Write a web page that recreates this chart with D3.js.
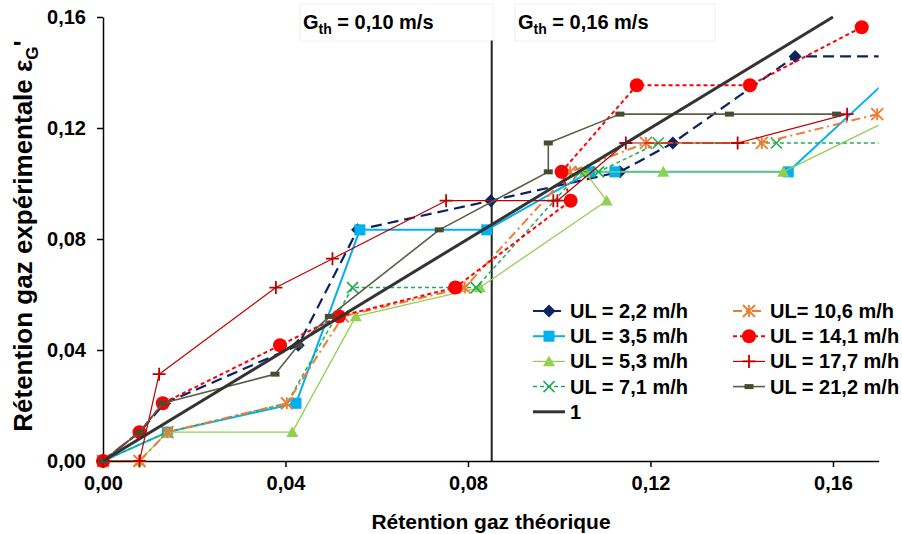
<!DOCTYPE html>
<html><head><meta charset="utf-8">
<script src="https://cdn.jsdelivr.net/npm/d3@7"></script>
<style>
html,body{margin:0;padding:0;background:#fff;}
svg text{font-family:"Liberation Sans",Arial,sans-serif;font-weight:bold;fill:#000;}
</style></head>
<body><svg id="c" width="902" height="534"></svg>
<script>
// ---- data ----
const xTicks = [0, 0.04, 0.08, 0.12, 0.16];
const yTicks = [0, 0.04, 0.08, 0.12, 0.16];
const xTitle = "Rétention gaz théorique";
const yTitleMain = "Rétention gaz expérimentale ε";
const yTitleSub = "G";
const yTitleEnd = "'";
const annotations = ["0,10 m/s", "0,16 m/s"];

const ul22_x = [0, 0.008, 0.0135, 0.0428, 0.0558, 0.0850, 0.1133, 0.1249, 0.1517, 0.18];
const ul22_y = [0, 0.0104, 0.0208, 0.0417, 0.0833, 0.0938, 0.1042, 0.1146, 0.1458, 0.1458];
const ul35_x = [0, 0.0141, 0.0423, 0.0563, 0.0841, 0.1067, 0.1122, 0.1502, 0.1775];
const ul35_y = [0, 0.0104, 0.0208, 0.0833, 0.0833, 0.1042, 0.1042, 0.1042, 0.1458];
const ul53_x = [0, 0.008, 0.0141, 0.0415, 0.0554, 0.0826, 0.1104, 0.1056, 0.1228, 0.1491, 0.175];
const ul53_y = [0, 0, 0.0104, 0.0104, 0.0521, 0.0625, 0.0938, 0.1042, 0.1042, 0.1042, 0.125];
const ul71_x = [0, 0.0141, 0.0403, 0.0547, 0.0818, 0.1046, 0.1086, 0.1217, 0.1476, 0.175];
const ul71_y = [0, 0.0104, 0.0208, 0.0625, 0.0625, 0.1042, 0.1042, 0.1146, 0.1146, 0.1146];
const ul106_x = [0, 0.008, 0.0141, 0.0403, 0.0526, 0.0793, 0.1024, 0.119, 0.1444, 0.1697];
const ul106_y = [0, 0, 0.0104, 0.0208, 0.0521, 0.0625, 0.1042, 0.1146, 0.1146, 0.125];
const ul141_x = [0, 0.008, 0.0131, 0.0388, 0.0517, 0.0772, 0.1025, 0.1005, 0.117, 0.1418, 0.1663];
const ul141_y = [0, 0.0104, 0.0208, 0.0417, 0.0521, 0.0625, 0.0938, 0.1042, 0.1354, 0.1354, 0.1563];
const ul177_x = [0, 0.008, 0.0123, 0.0379, 0.0503, 0.0752, 0.0987, 0.0996, 0.1146, 0.1391, 0.1631];
const ul177_y = [0, 0, 0.0313, 0.0625, 0.0729, 0.0938, 0.0938, 0.0938, 0.1146, 0.1146, 0.125];
const ul212_x = [0, 0.008, 0.0131, 0.0377, 0.0428, 0.0496, 0.0737, 0.0976, 0.0976, 0.1133, 0.1373, 0.1608];
const ul212_y = [0, 0.0104, 0.0208, 0.0313, 0.0417, 0.0521, 0.0833, 0.1042, 0.1146, 0.125, 0.125, 0.125];
const one_x = [0, 0.16];
const one_y = [0, 0.16];
const vline_x = [0.0852, 0.0852];
const vline_y = [0, 0.1515];

const seriesNames = ["UL = 2,2 m/h","UL = 3,5 m/h","UL = 5,3 m/h","UL = 7,1 m/h",
                     "UL= 10,6 m/h","UL = 14,1 m/h","UL = 17,7 m/h","UL = 21,2 m/h","1"];

// ---- styles ----
const styles = [
  {x:ul22_x,y:ul22_y,color:"#0b2461",w:2.2,dash:"11,6",marker:"diamond",ms:13},
  {x:ul35_x,y:ul35_y,color:"#00b0f0",w:2,dash:null,marker:"square",ms:11},
  {x:ul53_x,y:ul53_y,color:"#92d050",w:1.3,dash:null,marker:"triangle",ms:12},
  {x:ul71_x,y:ul71_y,color:"#1fae55",w:1.5,dash:"4,3",marker:"x",ms:11},
  {x:ul106_x,y:ul106_y,color:"#ed7d31",w:2,dash:"9,4,2,4",marker:"star",ms:12},
  {x:ul141_x,y:ul141_y,color:"#ff0000",w:2,dash:"4,3",marker:"circle",ms:14},
  {x:ul177_x,y:ul177_y,color:"#c00000",w:1.2,dash:null,marker:"plus",ms:13},
  {x:ul212_x,y:ul212_y,color:"#5d5d45",w:1.6,dash:null,marker:"rect",ms:9},
  {x:one_x,y:one_y,color:"#333333",w:3,dash:null,marker:null,ms:0}
];

const svg = d3.select("#c");
const xs = d3.scaleLinear().domain([0,0.17]).range([103,878.6]);
const ys = d3.scaleLinear().domain([0,0.16]).range([461,17]);
const fmt = v => d3.format(".2f")(v).replace(".", ",");

svg.append("defs").append("clipPath").attr("id","clip")
  .append("rect").attr("x",xs(0)).attr("y",ys(0.16)-2)
  .attr("width",xs(0.17)-xs(0)).attr("height",ys(0)-ys(0.16)+2);

// annotations boxes
const ann = svg.append("g");
[[300,493,303],[515,715,518]].forEach((b,i)=>{
  ann.append("rect").attr("x",b[0]).attr("y",4).attr("width",b[1]-b[0]).attr("height",37)
    .attr("fill","#fff").attr("stroke","#f0f0f0").attr("stroke-width",1);
  const t = ann.append("text").attr("x",b[2]).attr("y",29).attr("font-size",20);
  t.append("tspan").text("G");
  t.append("tspan").attr("font-size",14).attr("dy",5).text("th");
  t.append("tspan").attr("dy",-5).text(" = " + annotations[i]);
});

// vertical line
const line = d3.line().x(d=>xs(d[0])).y(d=>ys(d[1]));
svg.append("path").datum(d3.zip(vline_x, vline_y)).attr("d",line)
  .attr("fill","none").attr("stroke","#222").attr("stroke-width",2);

// axes
const xAxis = d3.axisBottom(xs).tickValues(xTicks).tickFormat(fmt).tickSize(6).tickSizeOuter(0).tickPadding(9);
const yAxis = d3.axisLeft(ys).tickValues(yTicks).tickFormat(fmt).tickSize(6).tickSizeOuter(0).tickPadding(11);
const gx = svg.append("g").attr("transform",`translate(0,${ys(0)})`).call(xAxis);
const gy = svg.append("g").attr("transform",`translate(${xs(0)},0)`).call(yAxis);
[gx,gy].forEach(g=>{
  g.select(".domain").attr("stroke","#000").attr("stroke-width",1.5);
  g.selectAll(".tick line").attr("stroke","#000").attr("stroke-width",1.5);
  g.selectAll(".tick text").attr("font-size",20).attr("fill","#000")
    .style("font-family","'Liberation Sans',Arial,sans-serif").style("font-weight","bold");
});

// titles
svg.append("text").attr("x",491).attr("y",529).attr("text-anchor","middle")
  .attr("font-size",21).text(xTitle);
const yt = svg.append("text").attr("transform","translate(32,236) rotate(-90)").attr("text-anchor","middle")
  .attr("font-size",26);
yt.append("tspan").text(yTitleMain);
yt.append("tspan").attr("font-size",17).attr("dy",6).text(yTitleSub);
yt.append("tspan").attr("dy",-6).text(yTitleEnd);

// markers
function drawMarker(g, type, cx, cy, s, color){
  const h = s/2;
  if(type==="diamond") g.append("path").attr("d",`M${cx},${cy-h}L${cx+h},${cy}L${cx},${cy+h}L${cx-h},${cy}Z`).attr("fill",color);
  else if(type==="square") g.append("rect").attr("x",cx-h).attr("y",cy-h).attr("width",s).attr("height",s).attr("fill",color);
  else if(type==="triangle") g.append("path").attr("d",`M${cx},${cy-h}L${cx+h},${cy+h*0.8}L${cx-h},${cy+h*0.8}Z`).attr("fill",color);
  else if(type==="circle") g.append("circle").attr("cx",cx).attr("cy",cy).attr("r",h).attr("fill",color);
  else if(type==="x") g.append("path").attr("d",`M${cx-h},${cy-h}L${cx+h},${cy+h}M${cx-h},${cy+h}L${cx+h},${cy-h}`).attr("stroke",color).attr("stroke-width",1.6).attr("fill","none");
  else if(type==="plus") g.append("path").attr("d",`M${cx-h},${cy}L${cx+h},${cy}M${cx},${cy-h}L${cx},${cy+h}`).attr("stroke",color).attr("stroke-width",1.8).attr("fill","none");
  else if(type==="star") g.append("path").attr("d",`M${cx-h},${cy-h}L${cx+h},${cy+h}M${cx-h},${cy+h}L${cx+h},${cy-h}M${cx},${cy-h}L${cx},${cy+h}`).attr("stroke",color).attr("stroke-width",1.8).attr("fill","none");
  else if(type==="rect") g.append("rect").attr("x",cx-h).attr("y",cy-2.5).attr("width",s).attr("height",5).attr("fill","#4a4a30");
}

const plot = svg.append("g");
styles.forEach((st)=>{
  const pts = d3.zip(st.x, st.y);
  plot.append("path").datum(pts).attr("d",line).attr("clip-path","url(#clip)")
    .attr("fill","none").attr("stroke",st.color).attr("stroke-width",st.w)
    .attr("stroke-dasharray",st.dash).attr("stroke-linejoin","round");
  if(st.marker){
    const mg = plot.append("g");
    pts.filter(p=>p[0]<=0.17 && p[1]<=0.16).forEach(p=>drawMarker(mg, st.marker, xs(p[0]), ys(p[1]), st.ms, st.color));
  }
});

// legend
const lg = svg.append("g");
const colX = [533, 733], rowY0 = 311, rowDy = 25.2;
styles.forEach((st,i)=>{
  let col, row;
  if(i<4){col=0;row=i;} else if(i<8){col=1;row=i-4;} else {col=0;row=4;}
  const lx = colX[col], ly = rowY0 + row*rowDy;
  lg.append("line").attr("x1",lx).attr("x2",lx+32).attr("y1",ly).attr("y2",ly)
    .attr("stroke",st.color).attr("stroke-width",st.w).attr("stroke-dasharray",st.dash);
  if(st.marker) drawMarker(lg, st.marker, lx+16, ly, st.ms, st.color);
  lg.append("text").attr("x",lx+37).attr("y",ly+7).attr("font-size",20).text(seriesNames[i]);
});
</script></body></html>
